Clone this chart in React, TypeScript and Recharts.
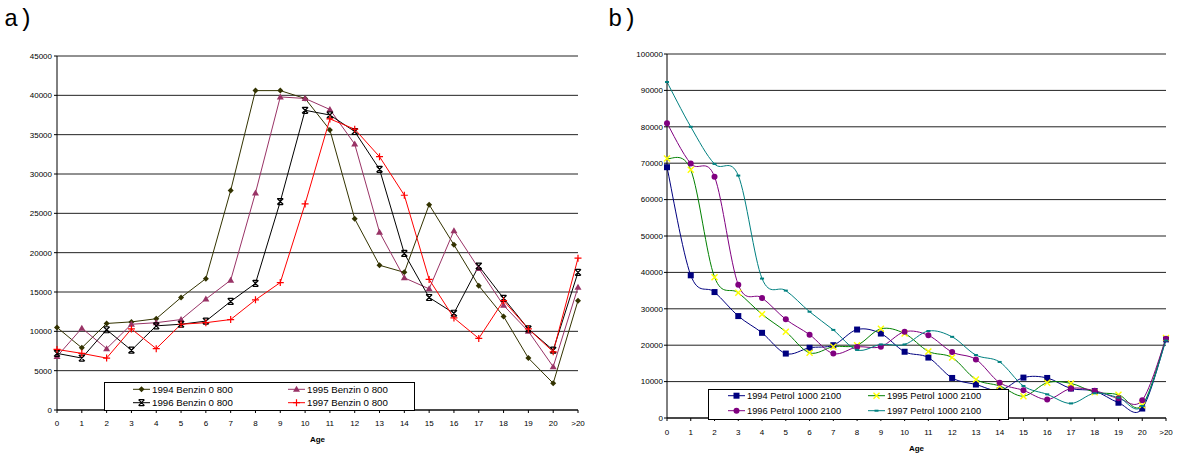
import React from "react";
import { CartesianGrid, Label, Line, LineChart, XAxis, YAxis } from "recharts";

const AGES = ["0", "1", "2", "3", "4", "5", "6", "7", "8", "9", "10", "11", "12", "13", "14", "15", "16", "17", "18", "19", "20", ">20"];

const BENZIN_1994 = [10500, 7900, 11000, 11200, 11600, 14300, 16700, 27900, 40600, 40600, 39600, 35600, 24300, 18400, 17500, 26100, 21000, 15800, 11900, 6600, 3400, 13900];
const BENZIN_1995 = [6800, 10400, 7800, 10900, 11100, 11500, 14100, 16500, 27600, 39800, 39600, 38200, 33800, 22600, 16800, 15400, 22800, 18000, 13300, 10000, 5500, 15600];
const BENZIN_1996 = [7200, 6600, 10200, 7600, 10700, 10900, 11300, 13800, 16100, 26500, 38100, 37500, 35400, 30600, 19900, 14300, 12300, 18300, 14200, 10300, 7600, 17500];
const BENZIN_1997 = [7700, 7200, 6600, 10300, 7800, 10900, 11100, 11500, 14000, 16200, 26200, 37000, 35700, 32200, 27300, 16600, 11700, 9100, 13900, 10300, 7400, 19300];

const PETROL_1994 = [68900, 39200, 34600, 28000, 23400, 17700, 19300, 20000, 24300, 23200, 18200, 16600, 11000, 9200, 7600, 11100, 11000, 8100, 7400, 4200, 2600, 21600];
const PETROL_1995 = [71300, 68200, 38700, 34400, 28500, 23700, 17900, 19600, 20000, 24500, 23200, 18300, 16600, 10600, 8800, 6000, 9700, 9500, 7100, 6400, 3500, 22000];
const PETROL_1996 = [81000, 69900, 66300, 36600, 33000, 27100, 22900, 17700, 19500, 19600, 23700, 22700, 18100, 16100, 9700, 7600, 5100, 8100, 7500, 5400, 4900, 21800];
const PETROL_1997 = [92300, 80000, 69800, 66600, 38300, 35000, 29200, 24200, 18700, 20200, 20200, 23900, 22300, 17300, 15400, 8800, 6500, 4000, 6800, 5600, 3300, 21300];

const BENZIN_TICKS = [0, 5000, 10000, 15000, 20000, 25000, 30000, 35000, 40000, 45000];
const PETROL_TICKS = [0, 10000, 20000, 30000, 40000, 50000, 60000, 70000, 80000, 90000, 100000];

const benzinRows = AGES.map((age, i) => ({
  age,
  b1994: BENZIN_1994[i],
  b1995: BENZIN_1995[i],
  b1996: BENZIN_1996[i],
  b1997: BENZIN_1997[i],
}));

const petrolRows = AGES.map((age, i) => ({
  age,
  p1994: PETROL_1994[i],
  p1995: PETROL_1995[i],
  p1996: PETROL_1996[i],
  p1997: PETROL_1997[i],
}));

type Series = { key: string; name: string; color: string; marker: string; markerColor?: string };

const BENZIN_SERIES: Series[] = [
  { key: "b1994", name: "1994 Benzin 0 800", color: "#333300", marker: "diamond" },
  { key: "b1995", name: "1995 Benzin 0 800", color: "#993366", marker: "triangle" },
  { key: "b1996", name: "1996 Benzin 0 800", color: "#000000", marker: "star" },
  { key: "b1997", name: "1997 Benzin 0 800", color: "#ff0000", marker: "plus" },
];

const PETROL_SERIES: Series[] = [
  { key: "p1994", name: "1994 Petrol 1000 2100", color: "#000080", marker: "square" },
  { key: "p1995", name: "1995 Petrol 1000 2100", color: "#008000", marker: "cross", markerColor: "#ffff00" },
  { key: "p1996", name: "1996 Petrol 1000 2100", color: "#800080", marker: "circle" },
  { key: "p1997", name: "1997 Petrol 1000 2100", color: "#008080", marker: "dash" },
];

const FONT = "'Liberation Sans', Arial, sans-serif";

// Excel-style smoothing: Catmull-Rom segments written as cubic beziers.
function excelSmooth(context: any) {
  let pts: number[][] = [];
  return {
    areaStart() {},
    areaEnd() {},
    lineStart() {
      pts = [];
    },
    point(x: number, y: number) {
      pts.push([+x, +y]);
    },
    lineEnd() {
      if (!pts.length) return;
      context.moveTo(pts[0][0], pts[0][1]);
      for (let i = 0; i < pts.length - 1; i++) {
        const p0 = pts[i - 1] ?? pts[i];
        const p1 = pts[i];
        const p2 = pts[i + 1];
        const p3 = pts[i + 2] ?? p2;
        context.bezierCurveTo(
          p1[0] + (p2[0] - p0[0]) / 6,
          p1[1] + (p2[1] - p0[1]) / 6,
          p2[0] - (p3[0] - p1[0]) / 6,
          p2[1] - (p3[1] - p1[1]) / 6,
          p2[0],
          p2[1]
        );
      }
    },
  };
}

function Marker({ kind, cx, cy, color }: { kind: string; cx: number; cy: number; color: string }) {
  switch (kind) {
    case "diamond":
      return <path d={`M${cx} ${cy - 3}L${cx + 3} ${cy}L${cx} ${cy + 3}L${cx - 3} ${cy}Z`} fill={color} />;
    case "triangle":
      return <path d={`M${cx} ${cy - 3.5}L${cx + 3.5} ${cy + 2.5}L${cx - 3.5} ${cy + 2.5}Z`} fill={color} />;
    case "star":
      return (
        <path
          d={`M${cx - 3} ${cy - 3}L${cx + 3} ${cy + 3}M${cx + 3} ${cy - 3}L${cx - 3} ${cy + 3}M${cx - 2.5} ${cy - 3}H${cx + 2.5}M${cx - 2.5} ${cy + 3}H${cx + 2.5}`}
          stroke={color}
          strokeWidth={1.2}
          fill="none"
        />
      );
    case "plus":
      return <path d={`M${cx - 3.5} ${cy}H${cx + 3.5}M${cx} ${cy - 3.5}V${cy + 3.5}`} stroke={color} strokeWidth={1.2} />;
    case "square":
      return <rect x={cx - 3} y={cy - 3} width={6} height={6} fill={color} />;
    case "cross":
      return (
        <path d={`M${cx - 3} ${cy - 3}L${cx + 3} ${cy + 3}M${cx + 3} ${cy - 3}L${cx - 3} ${cy + 3}`} stroke={color} strokeWidth={1.4} />
      );
    case "circle":
      return <circle cx={cx} cy={cy} r={3} fill={color} />;
    case "dash":
      return <rect x={cx - 2} y={cy - 1} width={4} height={2} fill={color} />;
    default:
      return null;
  }
}

function renderDot(s: Series) {
  return (p: any) => (
    <g key={`${s.key}-${p.index}`}>
      <Marker kind={s.marker} cx={p.cx} cy={p.cy} color={s.markerColor ?? s.color} />
    </g>
  );
}

function LegendBox({
  left,
  top,
  width,
  height,
  series,
  columns,
  rows,
  fontSize,
}: {
  left: number;
  top: number;
  width: number;
  height: number;
  series: Series[];
  columns: number[];
  rows: number[];
  fontSize: number;
}) {
  return (
    <svg style={{ position: "absolute", left, top }} width={width + 1} height={height + 1}>
      <rect x={0.5} y={0.5} width={width} height={height} fill="#fff" stroke="#000" />
      {series.map((s, i) => {
        const lx = columns[i % 2];
        const cy = rows[Math.floor(i / 2)];
        return (
          <g key={s.key}>
            <line x1={lx} x2={lx + 17} y1={cy} y2={cy} stroke={s.color} />
            <Marker kind={s.marker} cx={lx + 8.5} cy={cy} color={s.markerColor ?? s.color} />
            <text x={lx + 19} y={cy + 3.4} fontSize={fontSize} fontFamily={FONT} fill="#000">
              {s.name}
            </text>
          </g>
        );
      })}
    </svg>
  );
}

const tickStyle = { fontSize: 8, fill: "#000", fontFamily: FONT };

export default function App() {
  return (
    <div style={{ position: "absolute", left: 0, top: 0, width: 1192, height: 455, background: "#fff", fontFamily: FONT }}>
      <svg style={{ position: "absolute", left: 0, top: 0 }} width={1192} height={40}>
        <text x={4} y={26} fontFamily="'Liberation Mono', 'Courier New', monospace" fontSize={24} fill="#000">
          a)
        </text>
        <text x={608} y={26} fontFamily="'Liberation Mono', 'Courier New', monospace" fontSize={24} fill="#000">
          b)
        </text>
      </svg>

      <div style={{ position: "absolute", left: 0, top: 0 }}>
        <LineChart width={600} height={455} data={benzinRows} margin={{ top: 56, right: 22, bottom: 10, left: 0 }}>
          <CartesianGrid vertical={false} stroke="#222" />
          <XAxis
            dataKey="age"
            interval={0}
            tick={tickStyle}
            tickSize={3}
            tickMargin={7}
            height={35}
            axisLine={{ stroke: "#000" }}
            tickLine={{ stroke: "#000" }}
          >
            <Label value="Age" position="insideBottom" offset={3} fontSize={8} fontWeight="bold" fill="#000" fontFamily={FONT} />
          </XAxis>
          <YAxis
            domain={[0, 45000]}
            ticks={BENZIN_TICKS}
            interval={0}
            width={57}
            tick={tickStyle}
            tickSize={3}
            tickMargin={2}
            axisLine={{ stroke: "#000" }}
            tickLine={{ stroke: "#000" }}
          />
          {BENZIN_SERIES.map((s) => (
            <Line
              key={s.key}
              dataKey={s.key}
              name={s.name}
              type="linear"
              stroke={s.color}
              strokeWidth={1}
              dot={renderDot(s)}
              activeDot={false}
              isAnimationActive={false}
            />
          ))}
        </LineChart>
        <LegendBox
          left={104}
          top={382}
          width={310}
          height={28}
          series={BENZIN_SERIES}
          columns={[29, 184]}
          rows={[7.3, 20.7]}
          fontSize={9.7}
        />
      </div>

      <div style={{ position: "absolute", left: 600, top: 0, width: 592, height: 455 }}>
        <LineChart width={592} height={455} data={petrolRows} margin={{ top: 54, right: 26, bottom: 0, left: 0 }}>
          <CartesianGrid vertical={false} stroke="#222" />
          <XAxis
            dataKey="age"
            interval={0}
            tick={tickStyle}
            tickSize={3}
            tickMargin={8}
            height={37}
            axisLine={{ stroke: "#000" }}
            tickLine={{ stroke: "#000" }}
          >
            <Label value="Age" position="insideBottom" offset={4} fontSize={8} fontWeight="bold" fill="#000" fontFamily={FONT} />
          </XAxis>
          <YAxis
            domain={[0, 100000]}
            ticks={PETROL_TICKS}
            interval={0}
            width={67}
            tick={tickStyle}
            tickSize={3}
            tickMargin={1}
            axisLine={{ stroke: "#000" }}
            tickLine={{ stroke: "#000" }}
          />
          {PETROL_SERIES.map((s) => (
            <Line
              key={s.key}
              dataKey={s.key}
              name={s.name}
              type={excelSmooth as any}
              stroke={s.color}
              strokeWidth={1}
              dot={renderDot(s)}
              activeDot={false}
              isAnimationActive={false}
            />
          ))}
        </LineChart>
        <LegendBox
          left={108}
          top={389}
          width={300}
          height={30}
          series={PETROL_SERIES}
          columns={[20, 160]}
          rows={[6.7, 21.7]}
          fontSize={9.3}
        />
      </div>
    </div>
  );
}
